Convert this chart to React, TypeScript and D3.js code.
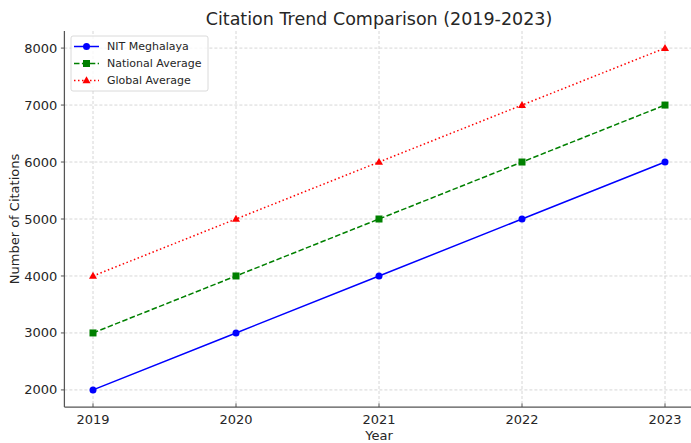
import React from "react";
import * as d3 from "d3";

const years = [2019, 2020, 2021, 2022, 2023];
const nitMeghalaya = [2000, 3000, 4000, 5000, 6000];
const nationalAverage = [3000, 4000, 5000, 6000, 7000];
const globalAverage = [4000, 5000, 6000, 7000, 8000];
const yTicks = [2000, 3000, 4000, 5000, 6000, 7000, 8000];

const W = 691, H = 443;
const left = 64.4, right = 693.6, top = 31, bottom = 407;

export default function App() {
  const x = d3.scaleLinear().domain([2018.8, 2023.2]).range([left, right]);
  const y = d3.scaleLinear().domain([1700, 8300]).range([bottom, top]);
  const line = d3.line<[number, number]>().x(d => x(d[0])).y(d => y(d[1]));
  const series = [
    { name: "NIT Meghalaya", values: nitMeghalaya, color: "#0000ff", dash: "none", marker: "circle" },
    { name: "National Average", values: nationalAverage, color: "#008000", dash: "5.5,2.4", marker: "square" },
    { name: "Global Average", values: globalAverage, color: "#ff0000", dash: "1.5,2.5", marker: "triangle" },
  ];
  const marker = (m: string, cx: number, cy: number, color: string, key: any) => {
    if (m === "circle") return <circle key={key} cx={cx} cy={cy} r={3.5} fill={color} />;
    if (m === "square") return <rect key={key} x={cx - 3.5} y={cy - 3.5} width={7} height={7} fill={color} />;
    return <path key={key} d={d3.symbol(d3.symbolTriangle, 28)() as string} transform={`translate(${cx},${cy + 0.5})`} fill={color} />;
  };
  const textColor = "#262626";
  return (
    <svg width={W} height={H} style={{ position: "absolute", left: 0, top: 0, background: "#fff" }} fontFamily="DejaVu Sans">
      <defs>
        <clipPath id="plot"><rect x={left} y={top} width={right - left} height={bottom - top} /></clipPath>
      </defs>
      <rect x={0} y={0} width={W} height={H} fill="#fff" />
      {/* grid */}
      <g stroke="#cccccc" strokeWidth={0.8} strokeDasharray="3,2">
        {years.map(v => <line key={"gx" + v} x1={x(v)} x2={x(v)} y1={top} y2={bottom} />)}
        {yTicks.map(v => <line key={"gy" + v} x1={left} x2={right} y1={y(v)} y2={y(v)} />)}
      </g>
      {/* series */}
      <g clipPath="url(#plot)">
        {series.map(s => {
          const pts = years.map((yr, i) => [yr, s.values[i]] as [number, number]);
          return (
            <g key={s.name}>
              <path d={line(pts) as string} fill="none" stroke={s.color} strokeWidth={1.5} strokeDasharray={s.dash} />
              {pts.map((p, i) => marker(s.marker, x(p[0]), y(p[1]), s.color, i))}
            </g>
          );
        })}
      </g>
      {/* spines */}
      <line x1={left} x2={left} y1={top} y2={bottom} stroke="#555" strokeWidth={1.25} />
      <line x1={left} x2={right} y1={bottom} y2={bottom} stroke="#555" strokeWidth={1.25} />
      {/* ticks */}
      <g fill={textColor} fontSize={13}>
        {years.map(v => (
          <g key={"tx" + v}>
            <line x1={x(v)} x2={x(v)} y1={bottom} y2={bottom - 3.5} stroke="#555" strokeWidth={1} />
            <text x={x(v)} y={bottom + 17} textAnchor="middle">{v}</text>
          </g>
        ))}
        {yTicks.map(v => (
          <g key={"ty" + v}>
            <line x1={left} x2={left - 3.5} y1={y(v)} y2={y(v)} stroke="#555" strokeWidth={1} />
            <text x={left - 7} y={y(v)} dy="0.35em" textAnchor="end">{v}</text>
          </g>
        ))}
      </g>
      <text x={(left + right) / 2} y={440} textAnchor="middle" fontSize={13} fill={textColor}>Year</text>
      <text transform={`translate(19,${(top + bottom) / 2}) rotate(-90)`} textAnchor="middle" fontSize={13} fill={textColor}>Number of Citations</text>
      <text x={(left + right) / 2} y={25} textAnchor="middle" fontSize={17.5} fill={textColor}>Citation Trend Comparison (2019-2023)</text>
      {/* legend */}
      <g>
        <rect x={71} y={36} width={137} height={55} rx={2} fill="#fff" fillOpacity={0.8} stroke="#d0d0d0" strokeWidth={0.8} />
        {series.map((s, i) => {
          const ly = 46.5 + i * 17;
          return (
            <g key={"lg" + s.name}>
              <line x1={74} x2={99} y1={ly} y2={ly} stroke={s.color} strokeWidth={1.5} strokeDasharray={s.dash} />
              {marker(s.marker, 86.5, ly, s.color, "m")}
              <text x={107} y={ly} dy="0.35em" fontSize={11} fill={textColor}>{s.name}</text>
            </g>
          );
        })}
      </g>
    </svg>
  );
}
